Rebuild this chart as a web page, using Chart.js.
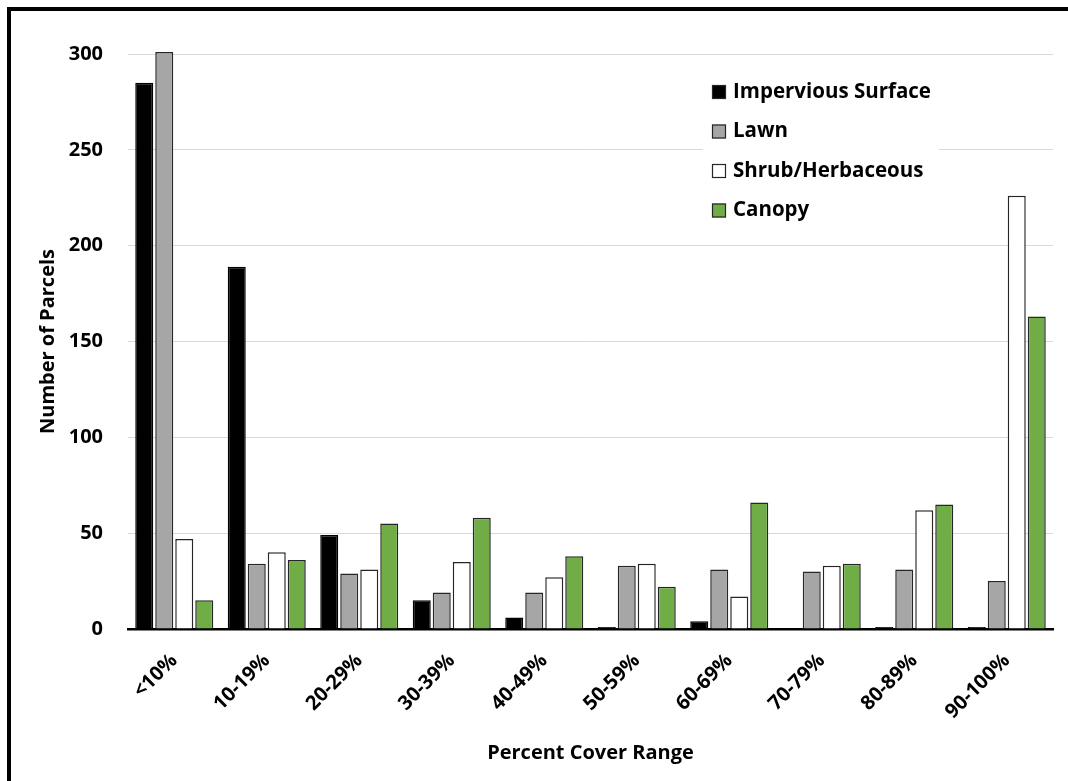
<!DOCTYPE html>
<html>
<head>
<meta charset="utf-8">
<script src="https://cdn.jsdelivr.net/npm/chart.js@4"></script>
<style>
  html, body { margin: 0; padding: 0; background: #ffffff; }
  #wrap { width: 1068px; height: 781px; }
</style>
</head>
<body>
<div id="wrap"><canvas id="chart" width="1068" height="781"></canvas></div>
<script>
// Parcel counts by percent-cover range
const categories = ['<10%', '10-19%', '20-29%', '30-39%', '40-49%', '50-59%', '60-69%', '70-79%', '80-89%', '90-100%'];
const impervious = [285, 189, 49, 15, 6, 1, 4, 0, 1, 1];
const lawn       = [301, 34, 29, 19, 19, 33, 31, 30, 31, 25];
const shrub      = [47, 40, 31, 35, 27, 34, 17, 33, 62, 226];
const canopy     = [15, 36, 55, 58, 38, 22, 66, 34, 65, 163];
const yTicks     = [0, 50, 100, 150, 200, 250, 300];

const FONT = "'Open Sans', 'DejaVu Sans', sans-serif";

// White page with a heavy black frame
const framePlugin = {
  id: 'frame',
  beforeDraw(chart) {
    const ctx = chart.ctx;
    ctx.save();
    ctx.fillStyle = '#ffffff';
    ctx.fillRect(0, 0, chart.width, chart.height);
    ctx.strokeStyle = '#000000';
    ctx.lineWidth = 4;
    ctx.strokeRect(9, 9, chart.width + 20, chart.height + 20);
    ctx.restore();
  }
};

// Legend drawn inside the plot area, top right, on a white panel
const insideLegend = {
  id: 'insideLegend',
  afterDatasetsDraw(chart) {
    const ctx = chart.ctx;
    const area = chart.chartArea;
    const x0 = area.left + 584;
    const y0 = area.top + 38;
    const rowGap = 39.5;
    ctx.save();
    ctx.fillStyle = '#ffffff';
    ctx.fillRect(x0 - 9, y0 - 20, 236, rowGap * 4);
    ctx.font = "bold 20.5px " + FONT;
    ctx.textBaseline = 'middle';
    ctx.textAlign = 'left';
    chart.data.datasets.forEach((ds, i) => {
      const cy = y0 + i * rowGap;
      ctx.fillStyle = ds.backgroundColor;
      ctx.fillRect(x0, cy - 7, 14, 14);
      ctx.strokeStyle = '#262626';
      ctx.lineWidth = 1.2;
      ctx.strokeRect(x0 + 0.5, cy - 6.5, 13, 13);
      ctx.fillStyle = '#000000';
      ctx.fillText(ds.label, x0 + 21, cy);
    });
    ctx.restore();
  }
};

const barStyle = { borderColor: '#262626', borderWidth: 1.5, clip: false, categoryPercentage: 0.865, barPercentage: 0.9 };

new Chart(document.getElementById('chart'), {
  type: 'bar',
  data: {
    labels: categories,
    datasets: [
      Object.assign({ label: 'Impervious Surface', data: impervious, backgroundColor: '#000000' }, barStyle, { borderColor: '#000000' }),
      Object.assign({ label: 'Lawn', data: lawn, backgroundColor: '#a6a6a6' }, barStyle),
      Object.assign({ label: 'Shrub/Herbaceous', data: shrub, backgroundColor: '#ffffff' }, barStyle),
      Object.assign({ label: 'Canopy', data: canopy, backgroundColor: '#70ad47' }, barStyle)
    ]
  },
  options: {
    responsive: false,
    animation: false,
    layout: { padding: { left: 0, top: 54, right: 15, bottom: 0 } },
    plugins: {
      legend: { display: false },
      tooltip: { enabled: false }
    },
    scales: {
      x: {
        grid: { display: false, drawTicks: false },
        border: { display: true, color: '#000000', width: 2.5 },
        ticks: {
          color: '#000000',
          font: { family: FONT, size: 20, weight: 'bold' },
          maxRotation: 45,
          minRotation: 45,
          padding: 20
        },
        title: {
          display: true,
          text: 'Percent Cover Range',
          color: '#000000',
          font: { family: FONT, size: 20, weight: 'bold' },
          padding: { top: 0, bottom: 16 }
        },
        afterFit(scale) { scale.height = 152; }
      },
      y: {
        min: 0,
        max: 300,
        afterBuildTicks(scale) { scale.ticks = yTicks.map(v => ({ value: v })); },
        grid: { color: '#d9d9d9', lineWidth: 1, drawTicks: false },
        border: { display: false },
        ticks: {
          color: '#000000',
          font: { family: FONT, size: 20, weight: 'bold' },
          padding: 25
        },
        title: {
          display: true,
          text: 'Number of Parcels',
          color: '#000000',
          font: { family: FONT, size: 20, weight: 'bold' },
          padding: { top: 36, bottom: 0 }
        },
        afterFit(scale) { scale.width = 128; }
      }
    }
  },
  plugins: [framePlugin, insideLegend]
});
</script>
</body>
</html>
